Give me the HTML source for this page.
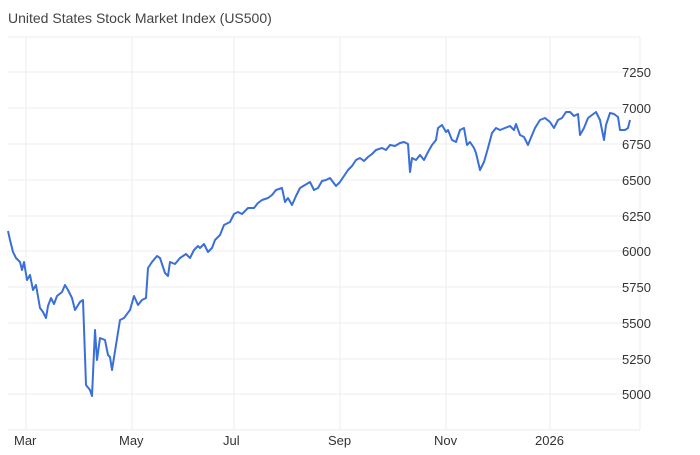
<!DOCTYPE html>
<html><head><meta charset="utf-8"><style>
body{margin:0;background:#fff;font-family:"Liberation Sans",sans-serif;}
</style></head><body>
<svg width="700" height="450" xmlns="http://www.w3.org/2000/svg" font-family="Liberation Sans, sans-serif">
<text x="8" y="23" font-size="14" fill="#444">United States Stock Market Index (US500)</text>
<g stroke="#ececec" stroke-width="1">
<line x1="8" y1="37" x2="640" y2="37"/>
<line x1="8" y1="72" x2="640" y2="72"/>
<line x1="8" y1="108" x2="640" y2="108"/>
<line x1="8" y1="144" x2="640" y2="144"/>
<line x1="8" y1="180" x2="640" y2="180"/>
<line x1="8" y1="216" x2="640" y2="216"/>
<line x1="8" y1="251" x2="640" y2="251"/>
<line x1="8" y1="287" x2="640" y2="287"/>
<line x1="8" y1="323" x2="640" y2="323"/>
<line x1="8" y1="359" x2="640" y2="359"/>
<line x1="8" y1="394" x2="640" y2="394"/>
<line x1="8" y1="430" x2="640" y2="430"/>
<line x1="26" y1="37" x2="26" y2="430"/>
<line x1="132" y1="37" x2="132" y2="430"/>
<line x1="234" y1="37" x2="234" y2="430"/>
<line x1="340" y1="37" x2="340" y2="430"/>
<line x1="446" y1="37" x2="446" y2="430"/>
<line x1="550" y1="37" x2="550" y2="430"/>
<line x1="640" y1="37" x2="640" y2="430"/>
</g>
<g font-size="13" fill="#333">
<text x="622" y="77">7250</text>
<text x="622" y="113">7000</text>
<text x="622" y="149">6750</text>
<text x="622" y="185">6500</text>
<text x="622" y="221">6250</text>
<text x="622" y="256">6000</text>
<text x="622" y="292">5750</text>
<text x="622" y="328">5500</text>
<text x="622" y="364">5250</text>
<text x="622" y="399">5000</text>
<text x="14" y="445">Mar</text>
<text x="119" y="445">May</text>
<text x="223" y="445">Jul</text>
<text x="328" y="445">Sep</text>
<text x="434" y="445">Nov</text>
<text x="535" y="445">2026</text>
</g>
<polyline fill="none" stroke="#3a6fd8" stroke-width="2" stroke-linejoin="round" points="8,231 10,240 13,252 16,258 20,262 22,270 24,262 27,280 30,275 33,290 36,285 40,308 43,312 46,318 48,306 51,298 54,304 57,296 62,292 65,285 68,290 72,298 75,310 80,302 83,300 86,385 90,390 92,396 95,330 97,360 100,338 105,340 108,355 110,357 112,370 116,345 120,320 124,318 130,310 134,296 138,305 142,300 146,298 148,268 152,262 157,256 160,258 165,273 168,276 170,262 175,264 180,258 186,254 190,258 194,250 198,246 200,248 204,244 208,252 212,248 215,240 220,235 224,225 230,222 234,214 238,212 242,214 248,208 254,208 258,203 262,200 268,198 272,195 276,190 282,188 285,202 288,198 292,205 296,196 300,188 305,185 310,182 314,190 318,188 322,181 326,180 330,178 336,186 340,182 344,176 348,170 352,166 356,160 360,158 364,161 368,157 372,154 376,150 382,148 386,150 390,145 395,146 400,143 404,142 408,144 410,172 412,158 416,160 420,155 424,160 428,152 432,145 436,140 438,128 442,125 446,132 448,130 452,140 456,142 460,130 464,128 467,145 470,142 474,148 476,153 480,170 484,162 488,148 492,133 496,128 500,130 505,128 510,126 514,130 516,124 520,135 524,137 528,145 530,140 535,128 540,120 545,118 550,122 554,128 558,120 562,118 566,112 570,112 574,116 578,114 580,135 584,128 588,118 592,115 596,112 600,120 604,140 606,125 610,113 614,114 618,117 620,130 625,130 628,128 630,120"/>
</svg>
</body></html>
